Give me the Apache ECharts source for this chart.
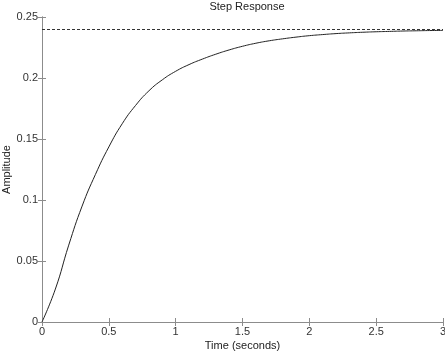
<!DOCTYPE html>
<html>
<head>
<meta charset="utf-8">
<script src="https://cdn.jsdelivr.net/npm/echarts@6/dist/echarts.min.js"></script>
<style>
  html, body { margin: 0; padding: 0; background: #fff; }
  #chart { width: 445px; height: 354px; }
</style>
</head>
<body>
<div id="chart"></div>
<script>
// step response samples, every 0.1 s
const times = [0, 0.1, 0.2, 0.3, 0.4, 0.5, 0.6, 0.7, 0.8, 0.9, 1.0, 1.1, 1.2, 1.3, 1.4, 1.5,
  1.6, 1.7, 1.8, 1.9, 2.0, 2.1, 2.2, 2.3, 2.4, 2.5, 2.6, 2.7, 2.8, 2.9, 3.0];
const amplitude = [0, 0.027, 0.063, 0.095, 0.121, 0.1435, 0.1625, 0.1775, 0.1895, 0.1985,
  0.2055, 0.211, 0.2155, 0.2195, 0.2230, 0.2260, 0.2285, 0.2305, 0.2321, 0.2335, 0.2347,
  0.2356, 0.2364, 0.2370, 0.2375, 0.2379, 0.2382, 0.2385, 0.2387, 0.2389, 0.239];
const finalValue = 0.239;
const xTicks = [0, 0.5, 1, 1.5, 2, 2.5, 3];
const yTicks = [0, 0.05, 0.1, 0.15, 0.2, 0.25];

const font = 'Liberation Sans, Arial, sans-serif';
const frameColor = '#8c8c8c';

const chart = echarts.init(document.getElementById('chart'));

const tickCommon = {
  axisLine: { show: true, lineStyle: { color: frameColor, width: 1 } },
  axisTick: { show: true, inside: true, length: 4, lineStyle: { color: frameColor } },
  splitLine: { show: false }
};

chart.setOption({
  animation: false,
  title: {
    text: 'Step Response',
    left: 242, top: -4, textAlign: 'center',
    textStyle: { fontFamily: font, fontSize: 11, fontWeight: 'normal', color: '#222' }
  },
  grid: { left: 42, top: 17, right: 2, bottom: 32, outerBoundsMode: 'none', containLabel: false },
  xAxis: [
    {
      type: 'value', min: 0, max: 3, interval: 0.5,
      name: 'Time (seconds)', nameLocation: 'middle', nameGap: 18, nameMoveOverlap: false,
      nameTextStyle: { fontFamily: font, fontSize: 11, color: '#222' },
      axisLabel: { fontFamily: font, fontSize: 11, color: '#333', margin: 4,
        formatter: v => xTicks.includes(v) ? String(v) : '' },
      ...tickCommon
    },
    {
      type: 'value', position: 'top', min: 0, max: 3, interval: 0.5,
      axisLabel: { show: false }, ...tickCommon
    }
  ],
  yAxis: [
    {
      type: 'value', min: 0, max: 0.25, interval: 0.05,
      name: 'Amplitude', nameLocation: 'middle', nameGap: 30, nameMoveOverlap: false,
      nameTextStyle: { fontFamily: font, fontSize: 11, color: '#222' },
      axisLabel: { fontFamily: font, fontSize: 11, color: '#333', margin: 4,
        formatter: v => yTicks.some(t => Math.abs(t - v) < 1e-9) ? String(+v.toFixed(2)) : '' },
      ...tickCommon
    },
    {
      type: 'value', position: 'right', min: 0, max: 0.25, interval: 0.05,
      axisLabel: { show: false }, ...tickCommon
    }
  ],
  series: [
    {
      type: 'line',
      data: times.map((t, i) => [t, amplitude[i]]),
      smooth: 0.5,
      showSymbol: false,
      lineStyle: { color: '#222', width: 1 },
      markLine: {
        silent: true,
        symbol: 'none',
        label: { show: false },
        lineStyle: { color: '#333', width: 1, type: [3, 2] },
        data: [{ yAxis: finalValue }]
      }
    }
  ]
});
</script>
</body>
</html>
